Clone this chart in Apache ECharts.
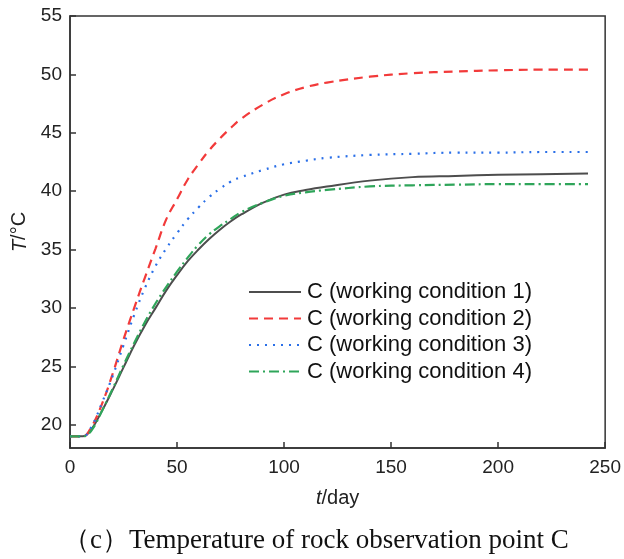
<!DOCTYPE html>
<html>
<head>
<meta charset="utf-8">
<script src="https://cdn.jsdelivr.net/npm/echarts@6/dist/echarts.min.js"></script>
<style>
  html, body { margin: 0; padding: 0; background: #fff; }
  #chart { width: 624px; height: 559px; }
</style>
</head>
<body>
<div id="chart"></div>
<script>
// time (day)
const days = [0, 6, 10, 15, 20, 25, 30, 35, 40, 45, 50, 55, 60, 65, 70, 75, 80, 90, 100, 110, 120, 140, 160, 180, 200, 220, 242];
// temperature at point C for each working condition
const cond1 = [19.0, 19.0, 19.6, 21.2, 23.0, 24.9, 26.8, 28.5, 30.0, 31.5, 32.8, 34.0, 35.0, 35.9, 36.7, 37.4, 38.0, 39.0, 39.7, 40.1, 40.4, 40.9, 41.2, 41.3, 41.4, 41.45, 41.5];
const cond2 = [19.0, 19.0, 19.8, 21.8, 24.4, 27.3, 30.0, 32.6, 35.1, 37.6, 39.3, 41.0, 42.3, 43.5, 44.5, 45.4, 46.2, 47.4, 48.3, 48.9, 49.3, 49.8, 50.1, 50.25, 50.35, 50.4, 50.4];
const cond3 = [19.0, 19.0, 19.8, 21.9, 24.2, 26.8, 29.4, 31.7, 33.6, 35.1, 36.4, 37.6, 38.6, 39.5, 40.2, 40.8, 41.2, 41.8, 42.3, 42.6, 42.85, 43.1, 43.2, 43.3, 43.3, 43.35, 43.35];
const cond4 = [19.0, 19.0, 19.5, 21.2, 23.1, 25.1, 27.0, 28.8, 30.4, 31.8, 33.1, 34.3, 35.4, 36.3, 37.0, 37.6, 38.2, 39.0, 39.6, 39.9, 40.1, 40.4, 40.5, 40.55, 40.6, 40.6, 40.6];
const names = ['C (working condition 1)', 'C (working condition 2)', 'C (working condition 3)', 'C (working condition 4)'];
const yTicks = [20, 25, 30, 35, 40, 45, 50, 55];

const pairs = (vals) => days.map((d, i) => [d, vals[i]]);

const styles = [
  { color: '#4d4d4d', type: 'solid' },
  { color: '#f23a3a', type: [9, 6] },
  { color: '#2a6fe8', type: [2, 6] },
  { color: '#2fa55a', type: [10, 4, 2, 4] },
];

const chart = echarts.init(document.getElementById('chart'));
const axisFont = { fontFamily: 'Liberation Sans, Arial', fontSize: 19, color: '#222' };
const nameFont = { fontFamily: 'Liberation Sans, Arial', fontSize: 20, color: '#222' };

chart.setOption({
  animation: false,
  title: {
    text: '（c）Temperature of rock observation point C',
    left: 63,
    top: 527,
    padding: 0,
    textStyle: { fontFamily: 'Liberation Serif, Times New Roman', fontSize: 27, fontWeight: 'normal', color: '#111' },
  },
  grid: {
    left: 70, top: 16, right: 17, bottom: 111,
    show: true, borderColor: '#333', borderWidth: 1.5,
  },
  legend: {
    left: 248, top: 281,
    padding: 0,
    orient: 'vertical',
    itemGap: 4.5,
    itemWidth: 52, itemHeight: 14,
    itemStyle: { opacity: 0 },
    textStyle: { fontFamily: 'Liberation Sans, Arial', fontSize: 22, color: '#111', padding: [0, 0, 0, 1] },
    data: names,
  },
  xAxis: {
    type: 'value', min: 0, max: 250, interval: 50,
    name: '{i|t}/day', nameLocation: 'middle', nameGap: 40,
    nameTextStyle: {
      ...nameFont,
      rich: { i: { ...nameFont, fontStyle: 'italic' } },
    },
    axisLine: { lineStyle: { color: '#333', width: 1.5 } },
    axisTick: { inside: true, length: 6, lineStyle: { color: '#333', width: 1.5 } },
    axisLabel: { ...axisFont, margin: 10 },
    splitLine: { show: false },
  },
  yAxis: {
    type: 'value', min: 18, max: 55,
    name: '{i|T}/°C', nameLocation: 'middle', nameGap: 37,
    nameTextStyle: {
      ...nameFont,
      rich: { i: { ...nameFont, fontStyle: 'italic' } },
    },
    axisLine: { lineStyle: { color: '#333', width: 1.5 } },
    axisTick: { inside: true, length: 6, customValues: yTicks, lineStyle: { color: '#333', width: 1.5 } },
    axisLabel: { ...axisFont, margin: 8, customValues: yTicks },
    splitLine: { show: false },
  },
  series: [cond1, cond2, cond3, cond4].map((vals, i) => ({
    name: names[i],
    type: 'line',
    smooth: 0.4,
    showSymbol: false,
    symbol: 'none',
    data: pairs(vals),
    itemStyle: { color: styles[i].color },
    lineStyle: { color: styles[i].color, type: styles[i].type, width: i === 0 ? 2 : 2.2 },
  })),
});
</script>
</body>
</html>
